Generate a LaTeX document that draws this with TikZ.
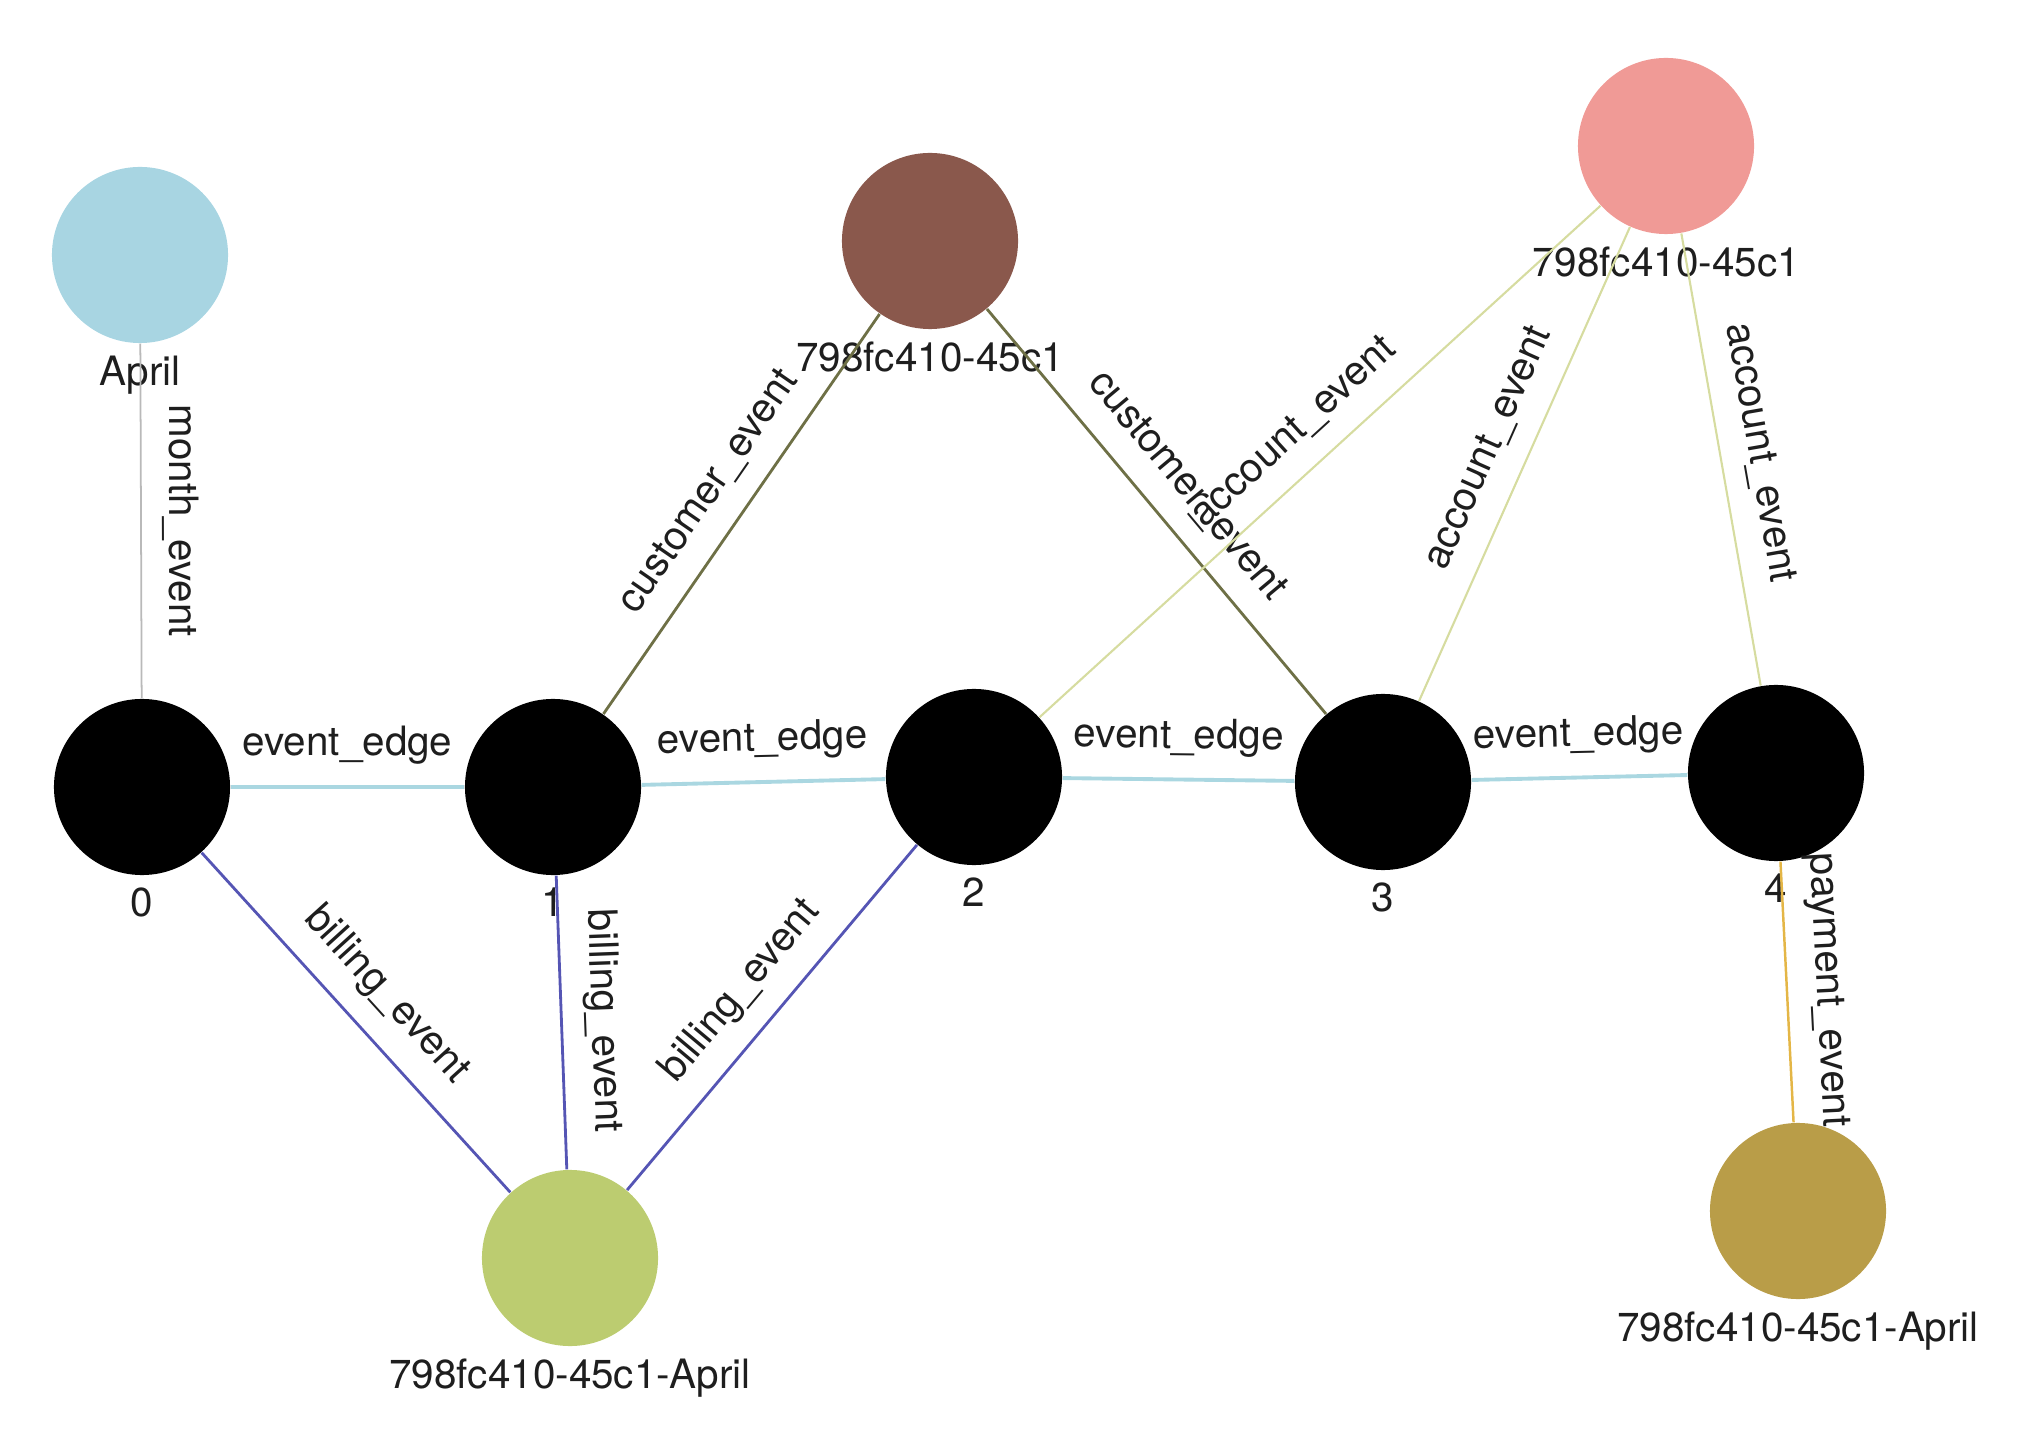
\documentclass[tikz,border=0pt]{standalone}
\usepackage{fontspec}
\setmainfont{TeX Gyre Heros}
\definecolor{aprilc}{RGB}{168,213,226}
\definecolor{brownc}{RGB}{138,88,76}
\definecolor{pinkc}{RGB}{240,154,150}
\definecolor{greenc}{RGB}{188,204,112}
\definecolor{goldc}{RGB}{185,157,72}
\definecolor{evc}{RGB}{170,215,225}
\definecolor{monthc}{RGB}{185,185,185}
\definecolor{billc}{RGB}{85,85,180}
\definecolor{custc}{RGB}{110,112,70}
\definecolor{accc}{RGB}{214,220,160}
\definecolor{payc}{RGB}{228,182,70}
\definecolor{txtc}{RGB}{30,30,30}
\begin{document}
\begin{tikzpicture}[x=0.01cm,y=-0.01cm,
  vtx/.style={circle, minimum size=1.76cm, inner sep=0pt},
  lbl/.style={font=\fontsize{11.5}{13.5}\selectfont, text=txtc},
  elbl/.style={lbl, midway, sloped, above=2.5pt},
  evE/.style={draw=evc, line width=1.1pt},
  monthE/.style={draw=monthc, line width=0.5pt},
  billE/.style={draw=billc, line width=0.8pt},
  custE/.style={draw=custc, line width=0.8pt},
  accE/.style={draw=accc, line width=0.6pt},
  payE/.style={draw=payc, line width=0.7pt}]
\useasboundingbox (0,0) rectangle (2030,1440);
% vertices
\node[vtx, fill=aprilc, label={[lbl]below:April}] (april) at (140,255) {};
\node[vtx, fill=brownc, label={[lbl]below:798fc410-45c1}] (brown) at (930,241) {};
\node[vtx, fill=pinkc, label={[lbl]below:798fc410-45c1}] (pink) at (1666,146) {};
\node[vtx, fill=black, label={[lbl]below:0}] (n0) at (142,787) {};
\node[vtx, fill=black, label={[lbl]below:1}] (n1) at (553,787) {};
\node[vtx, fill=black, label={[lbl]below:2}] (n2) at (974,777) {};
\node[vtx, fill=black, label={[lbl]below:3}] (n3) at (1383,782) {};
\node[vtx, fill=black, label={[lbl]below:4}] (n4) at (1776,773) {};
\node[vtx, fill=greenc, label={[lbl]below:798fc410-45c1-April}] (green) at (570,1258) {};
\node[vtx, fill=goldc, label={[lbl]below:798fc410-45c1-April}] (gold) at (1798,1211) {};
% edges
\draw[monthE] (april) -- node[elbl]{month\_event} (n0);
\draw[evE] (n0) -- node[elbl]{event\_edge} (n1);
\draw[evE] (n1) -- node[elbl]{event\_edge} (n2);
\draw[evE] (n2) -- node[elbl]{event\_edge} (n3);
\draw[evE] (n3) -- node[elbl]{event\_edge} (n4);
\draw[custE] (n1) -- node[elbl]{customer\_event} (brown);
\draw[custE] (brown) -- node[elbl]{customer\_event} (n3);
\draw[accE] (n2) -- node[elbl]{account\_event} (pink);
\draw[accE] (n3) -- node[elbl]{account\_event} (pink);
\draw[accE] (pink) -- node[elbl]{account\_event} (n4);
\draw[billE] (n0) -- node[elbl]{billing\_event} (green);
\draw[billE] (n1) -- node[elbl]{billing\_event} (green);
\draw[billE] (green) -- node[elbl]{billing\_event} (n2);
\draw[payE] (n4) -- node[elbl]{payment\_event} (gold);
\end{tikzpicture}
\end{document}
